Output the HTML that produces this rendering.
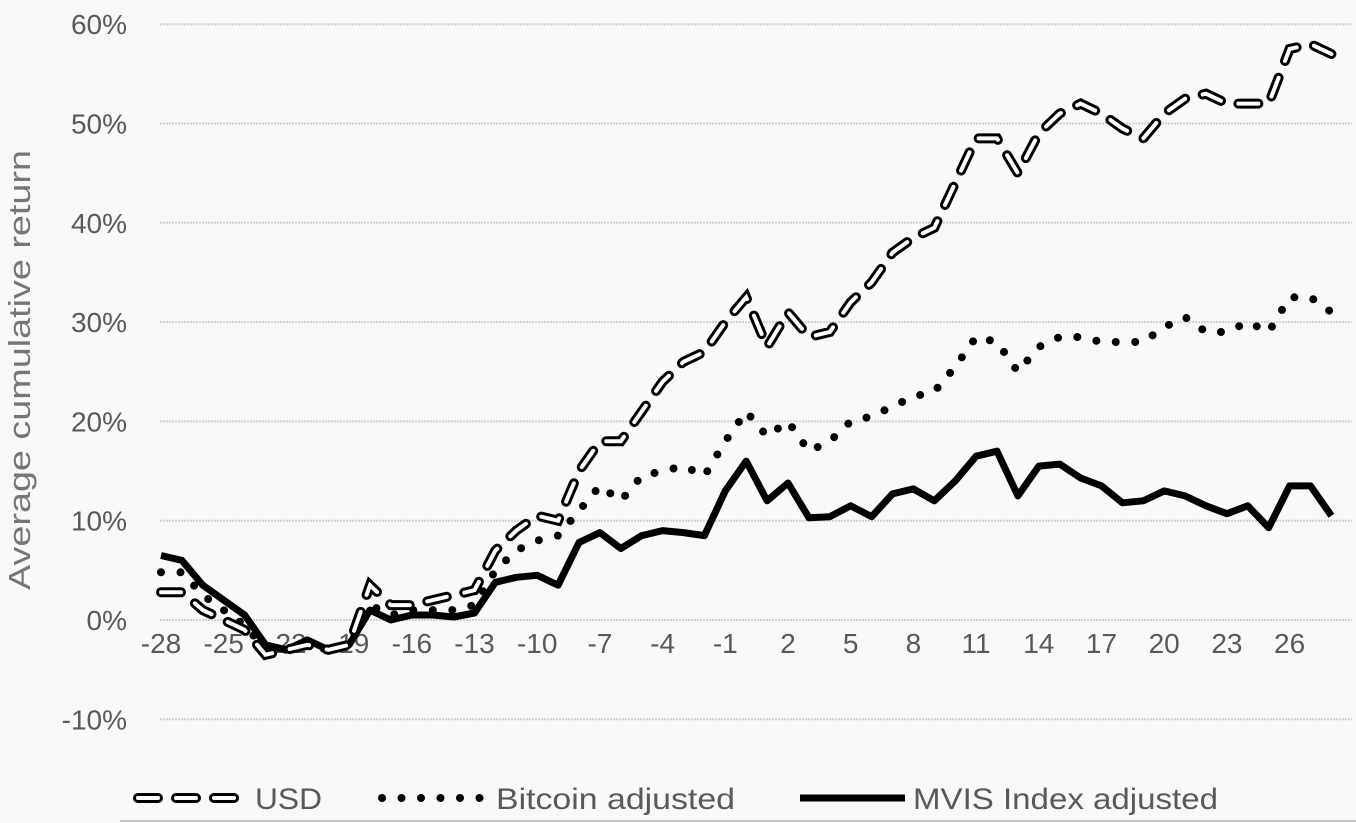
<!DOCTYPE html>
<html><head><meta charset="utf-8"><style>
html,body{margin:0;padding:0;background:#f9f9f9;}
svg{display:block;font-family:"Liberation Sans",sans-serif;}
</style></head><body>
<svg id="s" width="1356" height="823" xmlns="http://www.w3.org/2000/svg">
<rect width="1356" height="823" fill="#f9f9f9"/>
<g id="grid" stroke="#d0d0d0" stroke-width="2" stroke-dasharray="2,1"></g>
<g id="yl" fill="#595959" font-size="28" text-anchor="end"></g>
<g id="xl" fill="#595959" font-size="28" text-anchor="middle"></g>
<text transform="translate(30,370) rotate(-90)" text-anchor="middle" font-size="31" fill="#767676" textLength="440" lengthAdjust="spacingAndGlyphs">Average cumulative return</text>
<g id="series"></g>
<g font-size="30" fill="#595959">
<line x1="138" y1="798" x2="240" y2="798" stroke="#000" stroke-width="10" stroke-linecap="round" stroke-dasharray="20,18"/>
<line x1="138" y1="798" x2="240" y2="798" stroke="#fff" stroke-width="4" stroke-linecap="round" stroke-dasharray="20,18"/>
<text x="255" y="809" textLength="67" lengthAdjust="spacingAndGlyphs">USD</text>
<line x1="382" y1="798" x2="482" y2="798" stroke="#000" stroke-width="8" stroke-linecap="round" stroke-dasharray="0,19.5"/>
<text x="496" y="809" textLength="239" lengthAdjust="spacingAndGlyphs">Bitcoin adjusted</text>
<line x1="800" y1="798" x2="905" y2="798" stroke="#000" stroke-width="7"/>
<text x="913" y="809" textLength="305" lengthAdjust="spacingAndGlyphs">MVIS Index adjusted</text>
</g>
<line x1="120" y1="821" x2="1356" y2="821" stroke="#c8c8c8" stroke-width="2"/>
</svg>
<script>
var NS="http://www.w3.org/2000/svg";
function el(p,t,a,txt){var e=document.createElementNS(NS,t);for(var k in a)e.setAttribute(k,a[k]);if(txt!=null)e.textContent=txt;document.getElementById(p).appendChild(e);return e;}
function X(t){return 161+(t+28)*20.9;}
function Y(v){return 620-v*9.93;}
for(var v=-10;v<=60;v+=10){var y=Y(v);el("grid","line",{x1:160,x2:1352,y1:y,y2:y});el("yl","text",{x:127,y:y+10},v+"%");}
for(var t=-28;t<=26;t+=3){el("xl","text",{x:X(t),y:653},""+t);}
var usd=[2.8,2.8,1,0,-1,-3.5,-3,-2.5,-3,-2.5,3.5,1.5,1.5,2,2.5,3,7,9,10.5,10,15,18,18,21,24,26,27,30,32.5,27.5,31,28.5,29,32,34,37,38.5,39.5,44,48.5,48.5,45,49,51,52,51,49.5,48.5,51,52.5,53,52,52,52,57.5,58,57];
var btc=[4.8,4.8,2.5,1,-0.5,-3,-3,-2.5,-3,-2.5,1.5,0.5,1,1,1,1.5,5,7,8,8.5,11,13.5,12,14.5,15,15.5,14.5,18,21,18.5,20,17,18,20,20.5,21.5,22.5,23,25.5,28.5,28,25,27.5,28.5,28.5,28,28,28,29.5,30.5,29,29,30,29,32.5,32.5,31];
var mv=[6.5,6,3.5,2,0.5,-2.5,-3,-2,-3,-2.5,1,0,0.5,0.5,0.3,0.7,3.8,4.3,4.5,3.5,7.8,8.8,7.2,8.5,9,8.8,8.5,13,16,12,13.8,10.3,10.4,11.5,10.4,12.7,13.2,12,14,16.5,17,12.5,15.5,15.7,14.3,13.5,11.8,12,13,12.5,11.5,10.7,11.5,9.3,13.5,13.5,10.5];
function pts(a){return a.map(function(v,i){return X(i-28).toFixed(1)+","+Y(v).toFixed(1);}).join(" ");}
el("series","polyline",{points:pts(mv),fill:"none",stroke:"#000","stroke-width":7,"stroke-linejoin":"round"});
el("series","polyline",{points:pts(btc),fill:"none",stroke:"#000","stroke-width":8,"stroke-linecap":"round","stroke-dasharray":"0,19.5"});
el("series","polyline",{points:pts(usd),fill:"none",stroke:"#000","stroke-width":10,"stroke-linecap":"round","stroke-dasharray":"20,18"});
el("series","polyline",{points:pts(usd),fill:"none",stroke:"#fff","stroke-width":4,"stroke-linecap":"round","stroke-dasharray":"20,18"});
</script>
</body></html>
